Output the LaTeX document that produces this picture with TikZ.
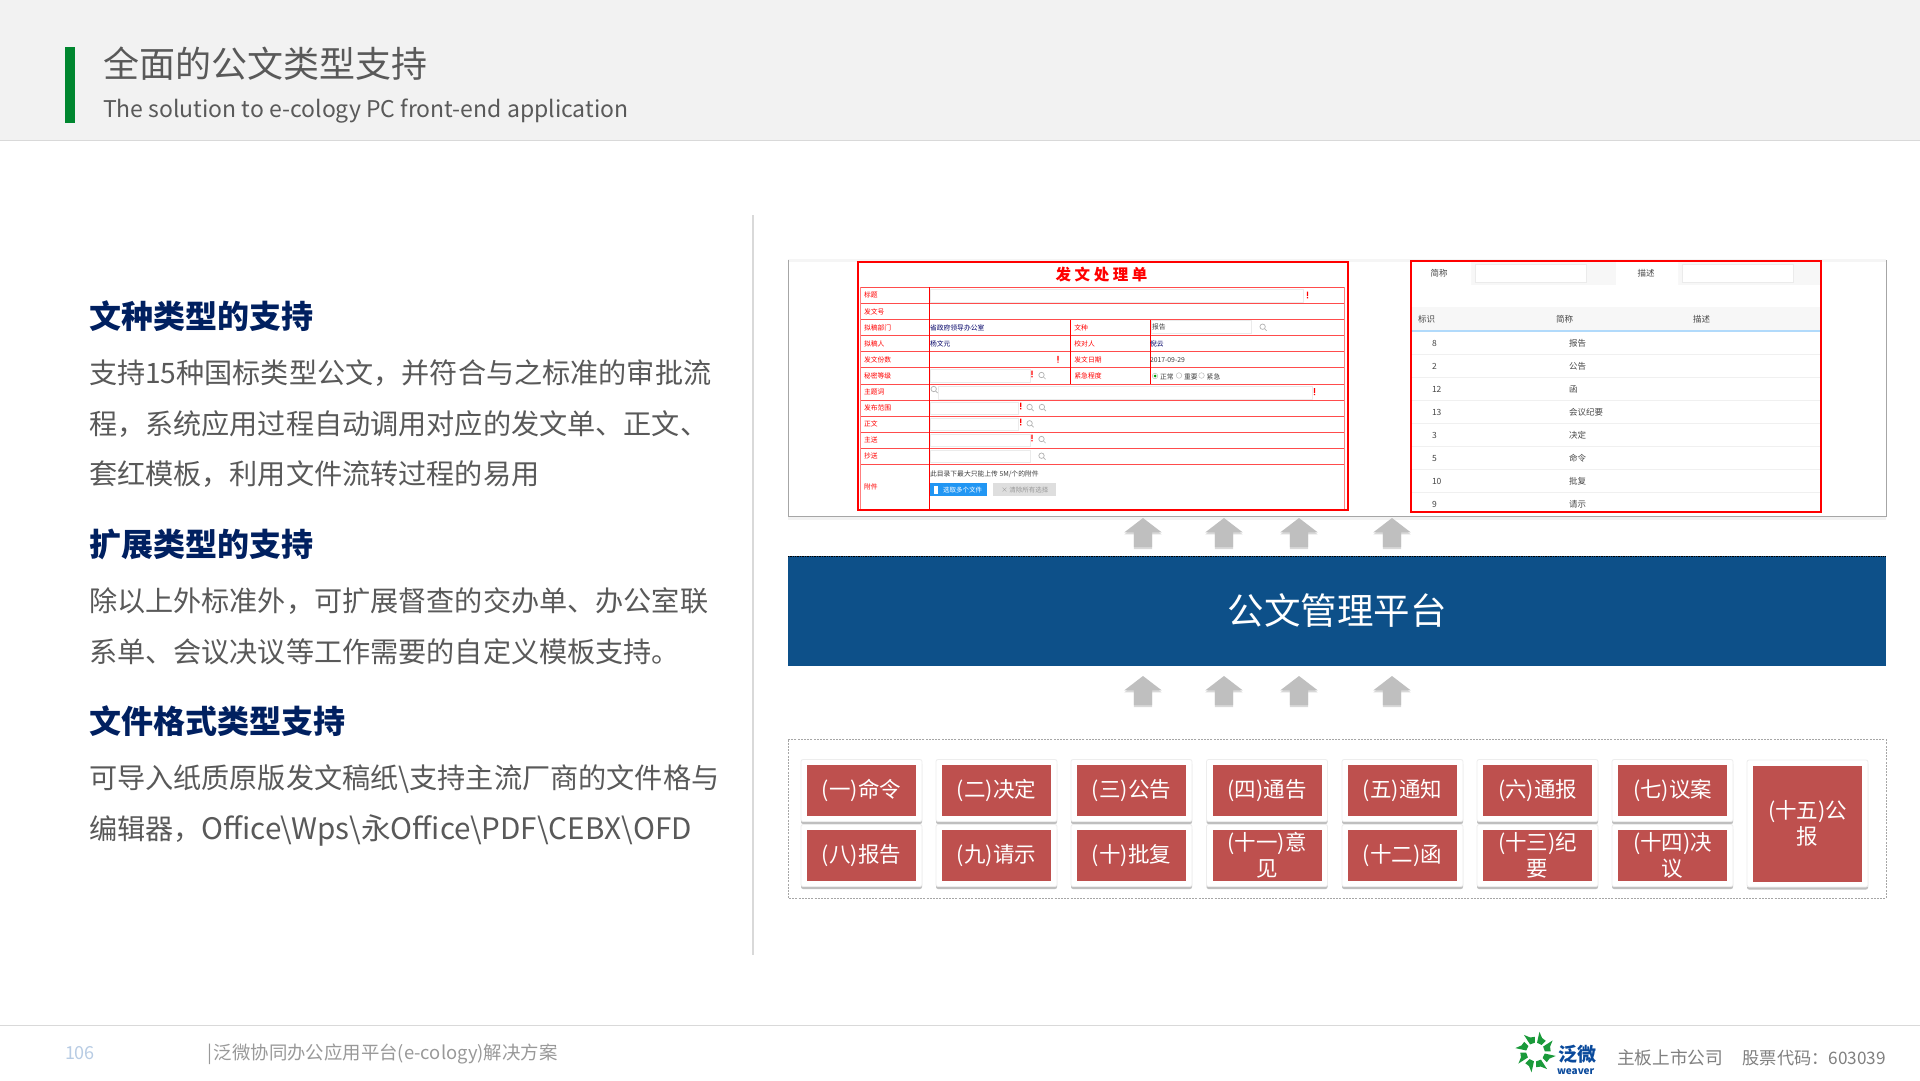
\documentclass[tikz,border=0pt]{standalone}
\usepackage{fontspec}
\setmainfont{Noto Sans CJK SC}
\usetikzlibrary{positioning,calc,shadows,shapes.arrows}
\definecolor{headbg}{HTML}{F2F2F2}
\definecolor{rulegray}{HTML}{D9D9D9}
\definecolor{greenbar}{HTML}{00862F}
\definecolor{barblue}{HTML}{0D5089}
\definecolor{cardred}{HTML}{BE504E}
\definecolor{navyhead}{HTML}{002060}
\definecolor{bodygray}{HTML}{595959}
\definecolor{logogreen}{HTML}{1A9A3A}
\definecolor{logoblue}{HTML}{0A4A9C}
\definecolor{arrowgray}{HTML}{BFBFBF}
\definecolor{formpink}{HTML}{FF7F7F}
\definecolor{pagenum}{HTML}{B8CCE4}
\definecolor{btnblue}{HTML}{2196F3}
\newcommand{\px}[1]{\fontsize{#1}{#1}\selectfont}
\begin{document}
\begin{tikzpicture}[x=1pt,y=-1pt,every node/.style={inner sep=0pt,outer sep=0pt},
				heading/.style={anchor=west,text=navyhead,font=\px{32}\bfseries},
				bodytext/.style={anchor=north west,align=left,text=bodygray,font=\fontsize{28.15}{50.5}\selectfont},
				uparrow/.style={single arrow,rotate=90,anchor=tip,fill=arrowgray,inner ysep=9pt,inner xsep=0pt,minimum height=29pt,
					single arrow head extend=9.5pt,single arrow tip angle=105,single arrow head indent=0pt,
					drop shadow={shadow xshift=0pt,shadow yshift=-2pt,opacity=.3}},
				typecard/.style={fill=white,draw=black!7,line width=.8pt,rounded corners=2pt,minimum width=121pt,minimum height=62pt,
					drop shadow={shadow xshift=0pt,shadow yshift=-2.5pt,opacity=.5}},
				typebox/.style={fill=cardred,minimum width=109pt,minimum height=51pt,text=white,align=center,font=\fontsize{21.5}{26}\selectfont},
				formlab/.style={anchor=west,text=red,font=\px{6.8}},
				formval/.style={anchor=west,text=black!75,font=\px{6.8}},
				listlab/.style={anchor=west,text=black!72,font=\px{8.5}},
				inputbox/.style={draw=black!8,fill=white,line width=.6pt}]
	\useasboundingbox (0,0) rectangle (1920,1080);
	\fill[white] (0,0) rectangle (1920,1080);
	% header
	\fill[headbg] (0,0) rectangle (1920,140);
	\draw[rulegray,line width=1pt] (0,140.5) -- (1920,140.5);
	\fill[greenbar] (65,47) rectangle (75,123);
	\node (TITLE) [anchor=west,text=bodygray,font=\px{36}] at (103,64) {全面的公文类型支持};
	\node (SUB)   [anchor=west,text=bodygray,font=\px{23}] at (103,111) {The solution to e-cology PC front-end application};
	% left text
	\node (H1) [heading] at (89,316) {文种类型的支持};
	\node (P1) [bodytext] at (89,360) {支持15种国标类型公文，并符合与之标准的审批流\\程，系统应用过程自动调用对应的发文单、正文、\\套红模板，利用文件流转过程的易用};
	\node (H2) [heading] at (89,544) {扩展类型的支持};
	\node (P2) [bodytext] at (89,588) {除以上外标准外，可扩展督查的交办单、办公室联\\系单、会议决议等工作需要的自定义模板支持。};
	\node (H3) [heading] at (89,721) {文件格式类型支持};
	\node (P3) [bodytext] at (89,765) {可导入纸质原版发文稿纸\textbackslash 支持主流厂商的文件格与\\编辑器，{\fontsize{29.6}{50.5}\selectfont Office\textbackslash Wps\textbackslash 永Office\textbackslash PDF\textbackslash CEBX\textbackslash OFD}};
	\draw[rulegray,line width=1.2pt] (753,215) -- (753,955);
	% screenshot frame
	\fill[black!4] (788,259) rectangle (1886,262);
	\draw[black!35,line width=.8pt] (788,260) -- (788,516.5) -- (1886,516.5) -- (1886,260);
	\fill[black!5] (788,517) rectangle (1886,520);
	% form
	\foreach \y in {287.3,303.3,319.7,335.7,351.7,367.7,384.3,400.3,416.3,432.3,448.3,464.3}
		\draw[formpink!60!red,line width=.8pt] (860,\y) -- (1344,\y);
	\draw[formpink,line width=.8pt] (860,287) -- (860,510) (1344,287) -- (1344,510);
	\draw[red,line width=.8pt] (929,287.3) -- (929,510) (1070,319.7) -- (1070,384.3) (1150,319.7) -- (1150,384.3);
	\foreach \xa/\ya/\xb/\yb in {930/289.3/1303/302.3,1151.5/320.7/1251/333.3,930/369.3/1030/382,938.5/386.7/1312/399,930/402/1018/414.3,930/418/1018/430.3,930/434/1030/446.7,930/450/1030/462.7}
		\draw[inputbox] (\xa,\ya) rectangle (\xb,\yb);
	\node (FORMTITLE) [text=red,font=\px{15.5}\bfseries] at (1101.5,275) {发 文 处 理 单};
	\foreach \y/\lab [count=\i] in {295.3/标题,311.5/发文号,327.7/拟稿部门,343.7/拟稿人,359.7/发文份数,376/秘密等级,392.3/主题词,408.3/发布范围,424.3/正文,440.3/主送,456.3/抄送,487/附件}
		\node (lab\i) [formlab] at (864,\y) {\lab};
	\foreach \x/\y/\lab [count=\i] in {1074.4/327.7/文种,1074.4/343.7/校对人,1074.4/359.7/发文日期,1074.4/376/紧急程度}
		\node (labb\i) [formlab] at (\x,\y) {\lab};
	\node (V1) [formval,text=blue!40!black] at (930,327.7) {省政府领导办公室};
	\node (V2) [formval,text=blue!40!black] at (930,343.7) {杨文元};
	\node (V3) [formval] at (1152,327) {报告};
	\node (V4) [formval,text=blue!40!black] at (1150,343.7) {倪云};
	\node (V5) [formval] at (1150,359.7) {2017-09-29};
	\node (V6) [formval] at (1160,377) {正常};
	\node (V7) [formval] at (1184,377) {重要};
	\node (V8) [formval] at (1206.7,377) {紧急};
	\draw[black!30,line width=.4pt] (1155,376) circle (2.8) (1179,375.5) circle (2.8) (1201.5,375.5) circle (2.8);
	\fill[green!60!black] (1155,376) circle (1.5);
	\foreach \x/\y in {1262.6/326.7,1041.5/375,933.7/389,1029.6/407,1041.9/407,1029.6/423.3,1041.5/439,1041.5/455.7}
		\draw[black!30,line width=.7pt] (\x,\y) circle (2.7) ++(2,2) -- ++(2,2);
	\foreach \x/\y in {1307.4/295,1058/359.3,1032/374,1314.4/391.7,1020.7/406,1020.7/422,1032/438}
		\fill[red] (\x-.6,\y-3.5) rectangle (\x+.6,\y+1.2) (\x-.6,\y+2.2) rectangle (\x+.6,\y+3.4);
	\node (NOTE) [formval] at (930,474) {此目录下最大只能上传 5M/个的附件};
	\node (BTNA) [anchor=north west,fill=btnblue,minimum width=57pt,minimum height=13pt,text=white,font=\px{6.5}] at (930,483.3) {\hspace{8pt}选取多个文件};
	\node (BTNB) [anchor=north west,fill=black!13,minimum width=63pt,minimum height=13pt,text=black!40,font=\px{6.5}] at (993.3,483.3) {× 清除所有选择};
	\fill[white] (933.5,485.5) rectangle (938,494);
	\draw[red,line width=1.6pt] (858,262) rectangle (1348,510);
	% list panel
	\fill[black!3] (1411,262) rectangle (1821,285);
	\fill[white] (1411,262) rectangle (1471,285) (1616,262) rectangle (1678,285);
	\draw[inputbox] (1475.5,264) rectangle (1586,282) (1682,264) rectangle (1793,282);
	\fill[black!3] (1411,307) rectangle (1821,330);
	\fill[btnblue!35] (1411,330) rectangle (1821,332);
	\node (LN1) [listlab] at (1430.5,273.5) {简称};
	\node (LN2) [listlab] at (1637.5,273.5) {描述};
	\node (LH1) [listlab] at (1418,319.5) {标识};
	\node (LH2) [listlab] at (1556,319.5) {简称};
	\node (LH3) [listlab] at (1693,319.5) {描述};
	\foreach \y/\num/\lab [count=\i] in {343.3/8/报告,366.3/2/公告,389.3/12/函,412.3/13/会议纪要,435.3/3/决定,458.3/5/命令,481/10/批复,504/9/请示}{
		\node (id\i) [listlab] at (1432,\y) {\num};
		\node (nm\i) [listlab] at (1569,\y) {\lab};
	}
	\foreach \y in {354.8,377.8,400.8,423.8,446.8,469.8,492.5}
		\draw[black!6,line width=.7pt] (1411,\y) -- (1821,\y);
	\draw[red,line width=1.6pt] (1411,261) rectangle (1821,512);
	% platform
	\node (PLAT) [anchor=north west,fill=barblue,minimum width=1098pt,minimum height=110pt,text=white,font=\px{36.5}] at (788,556) {公文管理平台};
	\draw[black,densely dotted,line width=.7pt] (PLAT.north west) -- (PLAT.north east);
	\foreach \x [count=\i] in {1143,1224,1299,1392}{
		\node (UA\i) [uparrow] at (\x,518) {};
		\node (UB\i) [uparrow] at (\x,676) {};
	}
	% types
	\draw[black!35,dash pattern=on 2pt off 1.2pt,line width=.7pt] (788,739.5) rectangle (1886,898.5);
	\foreach \x/\y/\lab [count=\i] in {861.5/790.5/(一)命令,996.5/790.5/(二)决定,1131.5/790.5/(三)公告,1267/790.5/(四)通告,1402.5/790.5/(五)通知,1537.5/790.5/(六)通报,1672.5/790.5/(七)议案,861.5/855.5/(八)报告,996.5/855.5/(九)请示,1131.5/855.5/(十)批复,1267/855.5/{(十一)意\\见},1402.5/855.5/(十二)函,1537.5/855.5/{(十三)纪\\要},1672.5/855.5/{(十四)决\\议}}{
		\node (card\i) [typecard] at (\x,\y) {};
		\node (type\i) [typebox] at (card\i) {\lab};
	}
	\node (card15) [typecard,minimum height=127pt] at (1807.5,823.5) {};
	\node (type15) [typebox,minimum height=116pt] at (card15) {(十五)公\\报};
	% footer
	\draw[rulegray,line width=1pt] (0,1025.5) -- (1920,1025.5);
	\node (PAGE) [anchor=west,text=pagenum,font=\px{18}] at (65,1053) {106};
	\node (FOOT) [anchor=west,text=black!40,font=\px{18.4}] at (207,1054) {|\hspace{2pt}泛微协同办公应用平台(e-cology)解决方案};
	\node (LISTED) [anchor=west,text=black!50,font=\px{17.7}] at (1617,1058) {主板上市公司};
	\node (STOCK)  [anchor=east,text=black!50,font=\px{17.2}] at (1886,1058) {股票代码：603039};
	\foreach \a in {20,65,...,335}
		\fill[logogreen,shift={(1535.5,1052)},rotate=\a] (9,-2.5) -- (20,-5) -- (15.5,0) -- (14.5,4.5) -- (9,2.5) -- cycle;
	\node (LOGOA) [anchor=west,text=logoblue,font=\px{19}\bfseries] at (1558,1054.5) {泛微};
	\node (LOGOB) [anchor=west,text=logoblue,font=\px{10}\bfseries] at (1557,1071.5) {weaver};
\end{tikzpicture}
\end{document}
